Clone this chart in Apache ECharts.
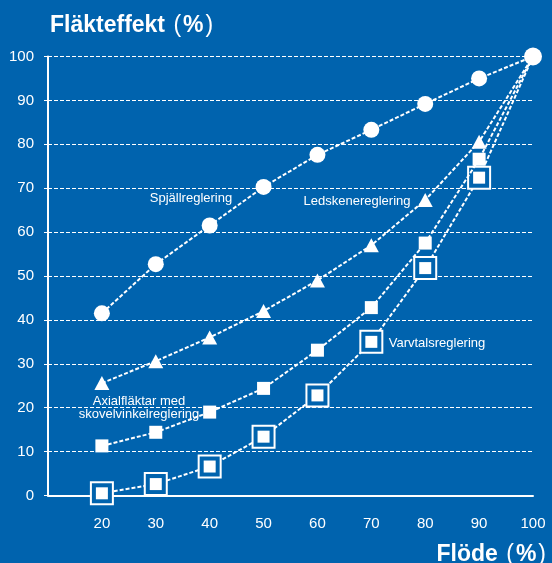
<!DOCTYPE html>
<html>
<head>
<meta charset="utf-8">
<script src="https://cdn.jsdelivr.net/npm/echarts@6/dist/echarts.min.js"></script>
<style>
  html, body { margin: 0; padding: 0; background: #0063ae; }
  #chart { width: 552px; height: 563px; }
</style>
</head>
<body>
<div id="chart"></div>
<script>
// Flow (%) on the x axis
const flow = [20, 30, 40, 50, 60, 70, 80, 90, 100];
// Fan power (%) for each control method
const spjall = [41.5, 52.7, 61.5, 70.3, 77.6, 83.3, 89.2, 95.0, 100];
const ledskena = [25.6, 30.6, 36.0, 42.0, 49.0, 57.0, 67.3, 80.6, 100];
const axial = [11.3, 14.4, 19.0, 24.4, 33.1, 42.8, 57.5, 76.6, 100];
const varvtal = [0.5, 2.6, 6.6, 13.4, 22.8, 35.0, 51.8, 72.4, 100];
const yTicks = [0, 10, 20, 30, 40, 50, 60, 70, 80, 90, 100];

const WHITE = '#ffffff';
const BG = '#0063ae';
const FONT = '"Liberation Sans", Arial, Helvetica, sans-serif';

const pairs = vals => flow.map((x, i) => [x, vals[i]]);
const dashed = { color: WHITE, width: 2, type: [4, 2] };

// hide the marker of the shared end point on all but the circle series
const hideLast = vals => pairs(vals).map((p, i) =>
  i === vals.length - 1 ? { value: p, symbol: 'none' } : p);

// bold title words with lighter, spaced parentheses
const titleRich = {
  b: { color: WHITE, fontSize: 23, fontWeight: 'bold', fontFamily: FONT },
  p: { color: WHITE, fontSize: 23, fontWeight: 'normal', fontFamily: FONT, padding: [0, 2, 0, 2] }
};

const chart = echarts.init(document.getElementById('chart'));
chart.setOption({
  backgroundColor: BG,
  animation: false,
  textStyle: { fontFamily: FONT },
  grid: { left: 48, right: 19, top: 56.5, bottom: 67.5, containLabel: false },
  title: [
    { text: '{b|Fläkteffekt }{p|(}{b|%}{p|)}', left: 45, top: 9,
      textStyle: { rich: titleRich } },
    { text: '{b|Flöde }{p|(}{b|%}{p|)}', right: 1, top: 538,
      textStyle: { rich: titleRich } }
  ],
  xAxis: {
    type: 'value', min: 10, max: 100, interval: 10,
    axisLine: { show: true, onZero: false, lineStyle: { color: WHITE, width: 2 } },
    axisTick: { show: false },
    splitLine: { show: false },
    axisLabel: {
      color: WHITE, fontSize: 15, margin: 21, fontFamily: FONT,
      formatter: v => (v === 10 ? '' : String(v))
    }
  },
  yAxis: {
    type: 'value', min: yTicks[0], max: yTicks[yTicks.length - 1], interval: 10,
    axisLine: { show: true, lineStyle: { color: WHITE, width: 2 } },
    axisTick: { show: true, length: 6, lineStyle: { color: WHITE, width: 1, type: [4, 2] } },
    splitLine: { show: true, lineStyle: { color: WHITE, width: 1, type: [4, 2] } },
    axisLabel: { color: WHITE, fontSize: 15, margin: 14, fontFamily: FONT }
  },
  graphic: [
    { type: 'text', x: 191, y: 198, style: { text: 'Spjällreglering', fill: WHITE,
      font: '13px ' + FONT, textAlign: 'center', textVerticalAlign: 'middle' } },
    { type: 'text', x: 357, y: 201, style: { text: 'Ledskenereglering', fill: WHITE,
      font: '13px ' + FONT, textAlign: 'center', textVerticalAlign: 'middle' } },
    { type: 'text', x: 437, y: 343, style: { text: 'Varvtalsreglering', fill: WHITE,
      font: '13px ' + FONT, textAlign: 'center', textVerticalAlign: 'middle' } },
    { type: 'text', x: 139, y: 408, style: { text: 'Axialfläktar med\nskovelvinkelreglering', fill: WHITE,
      font: '13px ' + FONT, lineHeight: 13.5, textAlign: 'center', textVerticalAlign: 'middle' } }
  ],
  series: [
    {
      name: 'Varvtalsreglering', type: 'line', data: hideLast(varvtal),
      lineStyle: dashed, symbol: 'rect', symbolSize: 22, showAllSymbol: true,
      itemStyle: { color: BG, borderColor: WHITE, borderWidth: 2 }, z: 2, clip: false
    },
    {
      name: 'Varvtalsreglering kärna', type: 'scatter', data: pairs(varvtal).slice(0, -1),
      symbol: 'rect', symbolSize: 12, itemStyle: { color: WHITE, opacity: 1 }, z: 3, clip: false
    },
    {
      name: 'Axialfläktar med skovelvinkelreglering', type: 'line', data: hideLast(axial),
      lineStyle: dashed, symbol: 'rect', symbolSize: 13, showAllSymbol: true,
      itemStyle: { color: WHITE }, z: 4, clip: false
    },
    {
      name: 'Ledskenereglering', type: 'line', data: hideLast(ledskena),
      lineStyle: dashed, symbol: 'triangle', symbolSize: [15, 14], showAllSymbol: true,
      itemStyle: { color: WHITE }, z: 5, clip: false
    },
    {
      name: 'Spjällreglering', type: 'line',
      data: pairs(spjall).map((p, i) => i === spjall.length - 1 ? { value: p, symbolSize: 18 } : p),
      lineStyle: dashed, symbol: 'circle', symbolSize: 16, showAllSymbol: true,
      itemStyle: { color: WHITE }, z: 6, clip: false
    }
  ]
});
</script>
</body>
</html>
